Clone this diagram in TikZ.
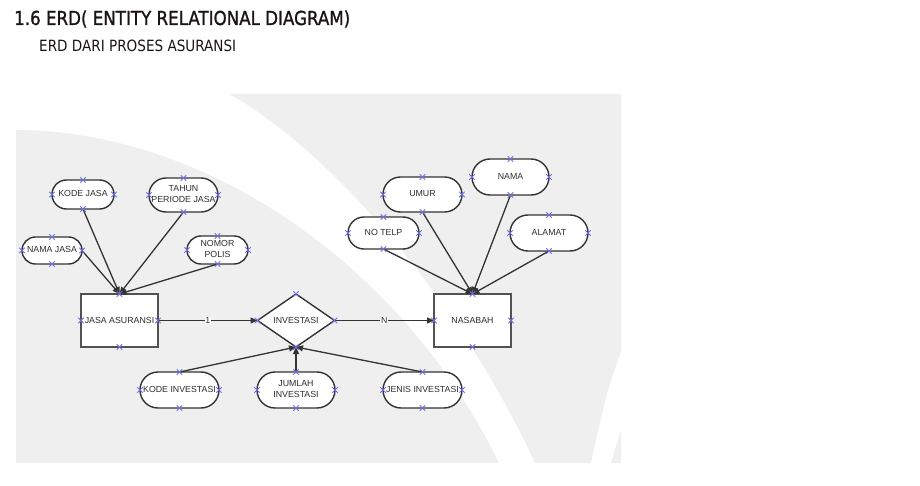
\documentclass[tikz,border=0pt]{standalone}
\usepackage{fontspec}
\setmainfont{Liberation Sans}
\newfontfamily\titlefont[FakeBold=1.3]{DejaVu Sans}
\newfontfamily\subfont{DejaVu Sans}
\usetikzlibrary{shapes.geometric,shapes.misc,arrows.meta}
\definecolor{bggray}{HTML}{EFEFEF}
\definecolor{edgec}{HTML}{333333}
\definecolor{markc}{HTML}{6E6EE6}
\definecolor{txtc}{HTML}{2E2E2E}
\definecolor{titlec}{HTML}{1A1418}
\newcommand\ctext[1]{\makebox[0pt]{\begin{tabular}{@{}c@{}}#1\end{tabular}}}
\newcommand\xmarks[1]{\foreach \a in {north,south,east,west}{\draw[markst] (#1.\a) +(-2.7,-2.7) -- +(2.7,2.7) +(-2.7,2.7) -- +(2.7,-2.7);}}
\begin{document}
\begin{tikzpicture}[x=1pt,y=-1pt,
  dfont/.style={font=\fontsize{8.8}{10.5}\selectfont, text=txtc},
  attr/.style 2 args={rounded rectangle, draw=edgec, line width=1.4pt, fill=white,
      inner sep=0pt, outer sep=0pt, minimum width=#1, minimum height=#2, dfont},
  ent/.style={rectangle, draw=edgec!85, line width=1.5pt, fill=white, inner sep=0pt,
      outer sep=0pt, minimum width=77pt, minimum height=53pt, dfont},
  rel/.style={diamond, draw=edgec, line width=1.4pt, fill=white, inner sep=0pt,
      outer sep=0pt, minimum width=77pt, minimum height=53pt, dfont},
  conn/.style={draw=edgec, line width=1.3pt, -{Triangle[length=7pt,width=6pt]}},
  card/.style={fill=white, inner sep=0.6pt, dfont},
  markst/.style={draw=markc, line width=0.9pt}
]
\useasboundingbox (0,0) rectangle (920,486);
% background
\fill[bggray] (229,94) .. controls (330,150) and (460,300) .. (535,463) -- (621,463) -- (621,94) -- cycle;
\fill[bggray] (16,130) .. controls (200,130) and (400,260) .. (499,463) -- (16,463) -- cycle;
\fill[white] (621,352) .. controls (606,395) .. (591,463) -- (611,463) -- (621,430) -- cycle;
% titles
\node[anchor=base west, inner sep=0pt, text=titlec] (title) at (14,25)
  {\resizebox{336pt}{14.6pt}{\titlefont 1.6 ERD( ENTITY RELATIONAL DIAGRAM)}};
\node[anchor=base west, inner sep=0pt, text=titlec] (subtitle) at (39,52)
  {\resizebox{197pt}{11.5pt}{\subfont ERD DARI PROSES ASURANSI}};
% entities and relationship
\node[ent] (ja) at (119.5,320.5) {JASA ASURANSI};
\node[ent] (na) at (472.5,320.5) {NASABAH};
\node[rel] (inv) at (296,320.5) {INVESTASI};
% attributes
\node[attr={62pt}{29pt}] (kj) at (83,194.5) {\ctext{KODE JASA}};
\node[attr={69pt}{34pt}] (tp) at (183.5,195) {\ctext{TAHUN\\PERIODE JASA}};
\node[attr={60pt}{27pt}] (nj) at (52,250.5) {\ctext{NAMA JASA}};
\node[attr={61pt}{28pt}] (np) at (217.5,250) {\ctext{NOMOR\\POLIS}};
\node[attr={79pt}{35pt}] (um) at (422.5,194.5) {\ctext{UMUR}};
\node[attr={77pt}{36pt}] (nm) at (510.5,177) {\ctext{NAMA}};
\node[attr={71pt}{32pt}] (nt) at (383.5,233) {\ctext{NO TELP}};
\node[attr={78pt}{36pt}] (al) at (549,233) {\ctext{ALAMAT}};
\node[attr={79pt}{36pt}] (ki) at (179.5,390) {\ctext{KODE INVESTASI}};
\node[attr={78pt}{36pt}] (ju) at (296,390) {\ctext{JUMLAH\\INVESTASI}};
\node[attr={79pt}{36pt}] (je) at (422.5,390) {\ctext{JENIS INVESTASI}};
% connectors
\draw[conn] (kj.south) -- (ja.north);
\draw[conn] (tp.south) -- (ja.north);
\draw[conn] (nj.east) -- (ja.north);
\draw[conn] (np.south) -- (ja.north);
\draw[conn] (nt.south) -- (na.north);
\draw[conn] (um.south) -- (na.north);
\draw[conn] (nm.south) -- (na.north);
\draw[conn] (al.south) -- (na.north);
\draw[conn] (ki.north) -- (inv.south);
\draw[conn] (ju.north) -- (inv.south);
\draw[conn] (je.north) -- (inv.south);
\draw[conn] (ja.east) -- node[card] (c1) {1} (inv.west);
\draw[conn] (inv.east) -- node[card] (c2) {N} (na.west);
% connection point markers
\foreach \n in {ja,na,inv,kj,tp,nj,np,um,nm,nt,al,ki,ju,je}{\xmarks{\n}}
\end{tikzpicture}
\end{document}
